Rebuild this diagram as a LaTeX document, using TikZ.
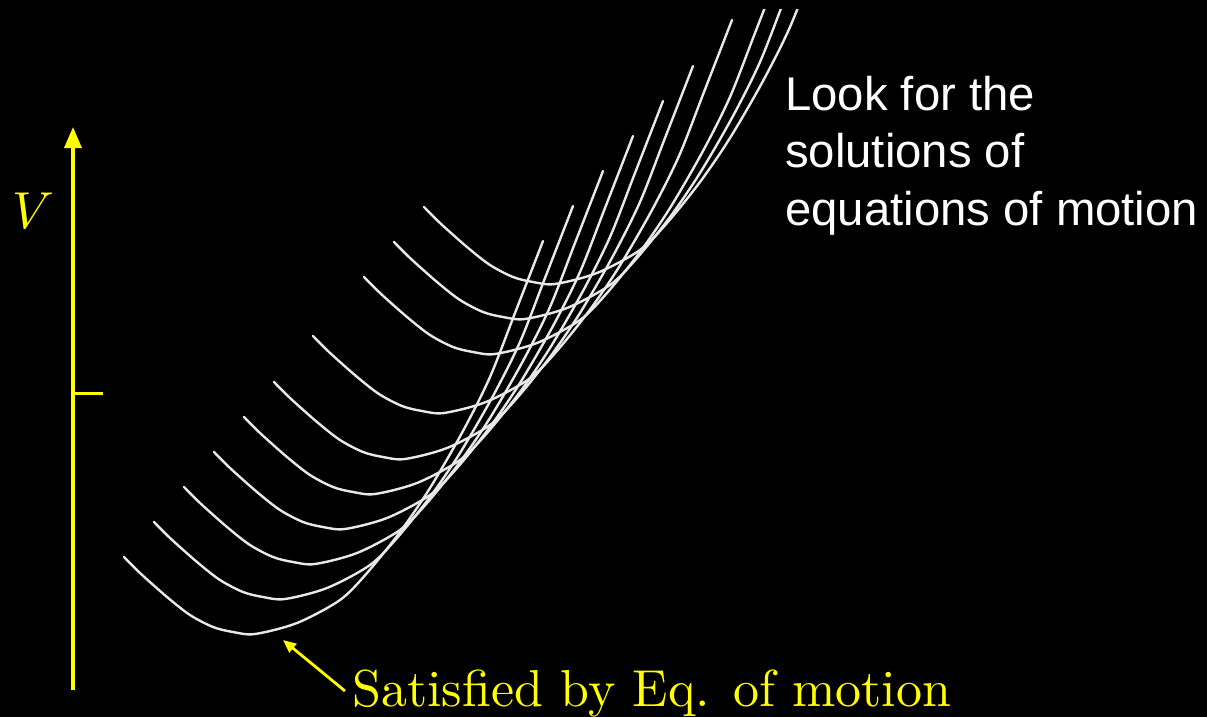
\documentclass[tikz,border=0pt]{standalone}
\usepackage{fontspec}
\newfontfamily\arialish{Liberation Sans}
\usetikzlibrary{arrows.meta}
\definecolor{ylw}{RGB}{255,255,0}
\definecolor{crv}{RGB}{232,232,232}
\begin{document}
\begin{tikzpicture}[x=1pt,y=-1pt,
  crvstyle/.style={draw=crv,line width=2.4pt,line join=round,line cap=round},
  axisstyle/.style={draw=ylw,line width=3.5pt},
  notearrow/.style={draw=ylw,line width=2.8pt,-{Triangle[length=13pt,width=11pt]}},
  sanslabel/.style={anchor=base west,inner sep=0pt,align=left,text=white,font=\arialish\fontsize{47.3}{57.5}\selectfont},
  seriflabel/.style={anchor=base west,inner sep=0pt,text=ylw}]
\useasboundingbox[fill=black] (0,0) rectangle (1207,717);

% family of curves (translated copies of one template)
\begin{scope}
\clip (0,10) rectangle (1207,717);
\foreach \dx/\dy in {0/0,30/-35,60/-70,90/-105,120/-140,150/-175,189/-221,240/-280,270/-315,300/-350}{
  \draw[crvstyle,shift={(\dx,\dy)}] plot[smooth,tension=0.5] coordinates {(124,557) (140,573) (167,597) (190,615) (213,627) (233,632) (255,634) (297,623) (340,600) (367,573) (400,532) (430,488) (463,431) (490,377) (515,313) (543,241)};
}
\end{scope}

% axis
\coordinate (abot) at (73,690);
\coordinate (atop) at (73,127);
\coordinate (tk) at (73,393);
\coordinate (tke) at (103,393);
\draw[axisstyle,-{Triangle[length=21pt,width=17pt]}] (abot) -- (atop);
\draw[axisstyle,line width=3pt] (tk) -- (tke);
\node[anchor=base,inner sep=0pt,text=ylw] (vlab) at (33,228) {\scalebox{5.2}{$V$}};

% texts
\node[sanslabel] (look) at (785,225) {Look for the\\solutions of\\equations of motion};
\node[seriflabel] (sat) at (352,706) {\scalebox{5.2}{Satisfied by Eq. of motion}};
\coordinate (tip) at (283,640);
\coordinate (tail) at (345,691);
\draw[notearrow] (tail) -- (tip);
\end{tikzpicture}
\end{document}
